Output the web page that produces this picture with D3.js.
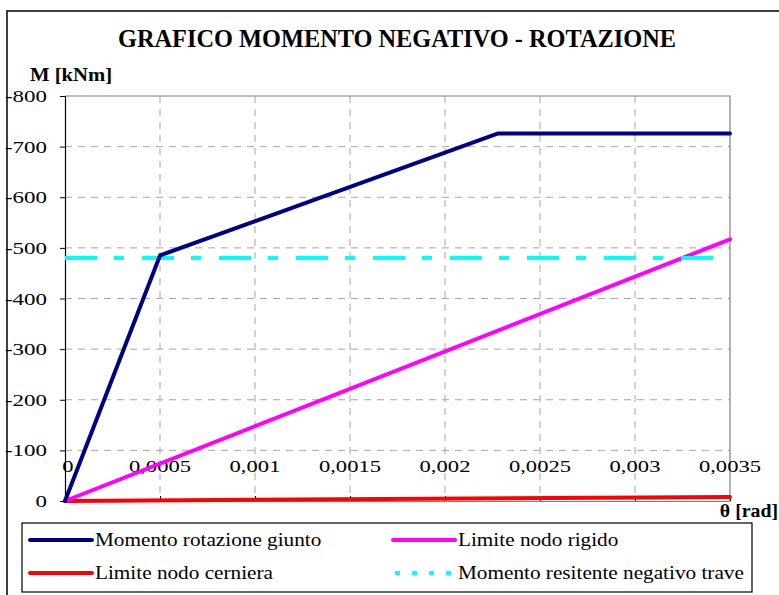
<!DOCTYPE html>
<html>
<head>
<meta charset="utf-8">
<script src="https://cdn.jsdelivr.net/npm/d3@7/dist/d3.min.js"></script>
<style>
  html, body { margin: 0; padding: 0; background: #fff; }
  svg { display: block; }
  text { font-family: "Liberation Serif", "DejaVu Serif", serif; fill: #000; }
</style>
</head>
<body>
<script>
// Rotation θ [rad] and moment M [kNm] of the beam-column joint
const giuntoTheta = [0, 0.0005, 0.00228, 0.0035];
const giuntoM     = [0, -485, -726, -726];
const rigidoTheta = [0, 0.0035];
const rigidoM     = [0, -517];
const cernieraTheta = [0, 0.0035];
const cernieraM     = [0, -8];
const resistTheta = [0, 0.0035];
const resistM     = [-480, -480];

const xTicks = [0, 0.0005, 0.001, 0.0015, 0.002, 0.0025, 0.003, 0.0035];
const xTickLabels = ["0", "0,0005", "0,001", "0,0015", "0,002", "0,0025", "0,003", "0,0035"];
const yTicks = [0, -100, -200, -300, -400, -500, -600, -700, -800];
const yTickLabels = ["0", "-100", "-200", "-300", "-400", "-500", "-600", "-700", "-800"];

const seriesNames = [
  "Momento rotazione giunto",
  "Limite nodo rigido",
  "Limite nodo cerniera",
  "Momento resitente negativo trave"
];

const W = 779, H = 595;
const svg = d3.select("body").append("svg").attr("width", W).attr("height", H);

// wide text: glyphs stretched horizontally about their anchor point
function wideText(parent, tx, ty, sx, str, size, anchor, bold) {
  return parent.append("text")
    .attr("transform", `translate(${tx},${ty}) scale(${sx},1)`)
    .attr("x", 0).attr("y", 0)
    .attr("text-anchor", anchor)
    .attr("font-size", size)
    .attr("font-weight", bold ? "bold" : null)
    .text(str);
}

// outer chart frame
svg.append("rect").attr("x", 7).attr("y", 11).attr("width", 800).attr("height", 620)
  .attr("fill", "#fff").attr("stroke", "#000").attr("stroke-width", 1.5);

const x = d3.scaleLinear().domain([0, 0.0035]).range([65, 730]);
const y = d3.scaleLinear().domain([0, -800]).range([501, 96]);

// title
svg.append("text").attr("x", 397).attr("y", 47).attr("text-anchor", "middle")
  .attr("font-size", 25).attr("font-weight", "bold")
  .attr("textLength", 558).attr("lengthAdjust", "spacingAndGlyphs")
  .text("GRAFICO MOMENTO NEGATIVO - ROTAZIONE");

// grid
const grid = svg.append("g");
grid.selectAll("line.h").data(yTicks.filter(d => d !== 0 && d !== -800)).join("line")
  .attr("x1", x(0)).attr("x2", x(0.0035)).attr("y1", d => y(d)).attr("y2", d => y(d))
  .attr("stroke", "#a6a6a6").attr("stroke-width", 1).attr("stroke-dasharray", "7,6");
grid.selectAll("line.v").data(xTicks.filter(d => d !== 0 && d !== 0.0035)).join("line")
  .attr("x1", d => x(d)).attr("x2", d => x(d)).attr("y1", y(-800)).attr("y2", y(0))
  .attr("stroke", "#a6a6a6").attr("stroke-width", 1).attr("stroke-dasharray", "7,6");

// plot area border (top and right)
svg.append("path")
  .attr("d", `M${x(0)},${y(-800)}H${x(0.0035)}V${y(0)}`)
  .attr("fill", "none").attr("stroke", "#808080").attr("stroke-width", 1.2);

// y axis (line and ticks from d3, labels stretched separately)
const yAxis = d3.axisLeft(y).tickValues(yTicks).tickFormat(() => "").tickSize(5);
const gy = svg.append("g").attr("transform", `translate(${x(0)},0)`).call(yAxis);
gy.select(".domain").attr("stroke", "#000").attr("stroke-width", 1.2);
gy.selectAll(".tick line").attr("stroke", "#000");
const yLab = svg.append("g");
yTicks.forEach((d, i) => wideText(yLab, 47, y(d) + 6, 1.35, yTickLabels[i], 17, "end"));

// x axis (base line at M = 0, labels drawn above it)
const xAxis = d3.axisBottom(x).tickValues(xTicks).tickFormat(() => "").tickSize(0);
const gx = svg.append("g").attr("transform", `translate(0,${y(0)})`).call(xAxis);
gx.select(".domain").attr("stroke", "#808080").attr("stroke-width", 1.2);
gx.selectAll(".tick").append("line").attr("y1", 0).attr("y2", -5).attr("stroke", "#000");
const xLab = svg.append("g");
xTicks.forEach((d, i) => wideText(xLab, x(d) + (d === 0 ? 3 : 0), 472, 1.33, xTickLabels[i], 17, "middle"));

// axis titles
wideText(svg, 30, 81, 1.15, "M [kNm]", 18, "start", true);
wideText(svg, 778, 517, 1.1, "θ [rad]", 18, "end", true);

// series
const line = d3.line().x(d => x(d[0])).y(d => y(d[1]));
const zip = (a, b) => a.map((v, i) => [v, b[i]]);

svg.append("path").datum(zip(cernieraTheta, cernieraM)).attr("d", line)
  .attr("fill", "none").attr("stroke", "#ff0000").attr("stroke-width", 4).attr("stroke-linecap", "round");
svg.append("path").datum(zip(rigidoTheta, rigidoM)).attr("d", line)
  .attr("fill", "none").attr("stroke", "#ff00ff").attr("stroke-width", 4).attr("stroke-linecap", "round");
svg.append("path").datum(zip(resistTheta, resistM)).attr("d", line)
  .attr("fill", "none").attr("stroke", "#00ffff").attr("stroke-width", 4)
  .attr("stroke-dasharray", "32,17,10,18");
svg.append("path").datum(zip(giuntoTheta, giuntoM)).attr("d", line)
  .attr("fill", "none").attr("stroke", "#000080").attr("stroke-width", 4)
  .attr("stroke-linecap", "round").attr("stroke-linejoin", "round");

// legend
const lg = svg.append("g");
lg.append("rect").attr("x", 22).attr("y", 523).attr("width", 730).attr("height", 69)
  .attr("fill", "#fff").attr("stroke", "#000").attr("stroke-width", 1.2);
const legendItems = [
  { name: seriesNames[0], color: "#000080", dash: null, lx: 30, ly: 540 },
  { name: seriesNames[1], color: "#ff00ff", dash: null, lx: 393, ly: 540 },
  { name: seriesNames[2], color: "#ff0000", dash: null, lx: 30, ly: 573 },
  { name: seriesNames[3], color: "#00ffff", dash: "5,12", lx: 393, ly: 573 }
];
legendItems.forEach(d => {
  lg.append("line")
    .attr("x1", d.lx + (d.dash ? 2 : 0)).attr("x2", d.lx + 62)
    .attr("y1", d.ly).attr("y2", d.ly)
    .attr("stroke", d.color).attr("stroke-width", 4)
    .attr("stroke-linecap", d.dash ? "butt" : "round")
    .attr("stroke-dasharray", d.dash);
  wideText(lg, d.lx + 65, d.ly + 6, 1.18, d.name, 18, "start");
});
</script>
</body>
</html>
